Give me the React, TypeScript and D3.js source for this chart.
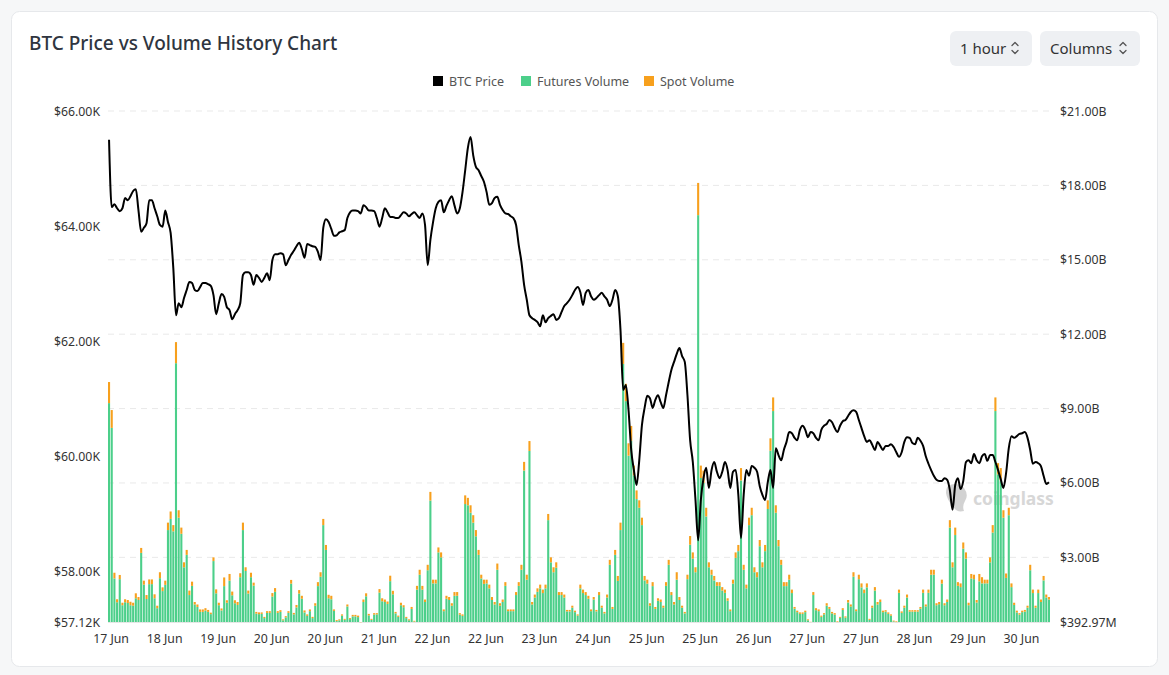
import * as React from "react"
import * as d3 from "d3"

// hourly bars, 17 Jun – 30 Jun
const futuresVolume: number[] = [
  9.22, 8.22, 2.15, 1.19, 2.12, 1.07, 1.19, 1.16, 1.07, 1.05, 1.35, 1.28, 3.18, 1.90, 1.32, 1.92, 1.92, 1.35, 0.95, 2.16,
  1.64, 1.89, 4.1, 4.55, 4.05, 10.83, 4.6, 3.95, 2.6, 3.1, 1.48, 1.85, 1.1, 1.0, 0.8, 0.8, 0.85, 0.8, 0.71, 2.85,
  1.55, 1.07, 0.86, 1.84, 1.17, 2.06, 1.47, 1.15, 1.08, 2.2, 4.1, 2.45, 1.54, 2.2, 1.86, 0.73, 0.71, 0.72, 0.55, 0.76,
  0.76, 1.42, 1.61, 0.76, 0.8, 0.46, 0.58, 0.76, 1.94, 0.7, 0.98, 1.54, 1.33, 0.78, 0.64, 0.83, 0.55, 1.05, 1.84, 2.22,
  4.3, 3.3, 1.35, 1.31, 0.84, 0.43, 0.46, 0.65, 0.48, 1.02, 0.51, 0.62, 0.62, 0.59, 0.38, 1.2, 1.43, 0.66, 0.48, 0.69,
  0.7, 1.58, 1.23, 1.2, 1.12, 2.04, 1.51, 0.74, 0.6, 1.07, 0.99, 0.55, 0.46, 0.92, 0.41, 1.7, 2.3, 1.7, 1.2, 2.48,
  5.29, 1.95, 1.95, 3.2, 3.0, 0.83, 1.33, 1.28, 1.05, 1.45, 1.45, 0.69, 0.64, 5.15, 5.1, 4.8, 4.4, 3.85, 3.1, 2.15,
  1.93, 1.95, 1.75, 1.28, 1.1, 2.5, 1.05, 1.2, 1.85, 0.83, 0.83, 0.83, 1.48, 1.85, 2.5, 6.5, 2.1, 7.29, 1.1, 1.38,
  1.61, 1.75, 1.56, 1.75, 4.5, 2.8, 2.4, 2.58, 1.48, 1.48, 1.38, 0.82, 0.82, 0.97, 0.79, 0.65, 1.75, 1.56, 1.48, 1.33,
  0.83, 1.3, 0.82, 1.48, 0.97, 0.74, 1.38, 2.7, 0.92, 3.1, 2.05, 4.1, 10.8, 9.3, 7.1, 7.7, 6.3, 5.35, 5.0, 4.3,
  2.07, 1.94, 1.05, 1.84, 0.92, 1.25, 1.2, 0.97, 1.85, 2.7, 1.48, 1.1, 2.1, 1.28, 0.97, 0.74, 2.12, 3.51, 2.95, 2.4,
  16.8, 6.2, 6.0, 4.65, 2.6, 2.3, 2.07, 1.85, 1.85, 1.66, 1.57, 1.25, 0.83, 1.94, 2.98, 3.25, 6.1, 2.5, 1.75, 4.3,
  4.7, 2.4, 2.2, 3.45, 2.6, 3.25, 4.95, 7.3, 8.9, 4.8, 3.45, 2.7, 1.84, 1.84, 2.1, 1.56, 0.93, 0.79, 0.72, 0.72,
  0.79, 0.46, 0.39, 1.48, 0.87, 0.83, 0.6, 0.7, 1.05, 0.92, 0.74, 0.69, 0.39, 0.56, 0.88, 0.57, 1.18, 1.02, 2.22, 0.83,
  2.12, 1.79, 1.56, 1.79, 0.48, 0.97, 1.66, 1.1, 1.2, 0.79, 0.81, 0.72, 0.65, 0.42, 0.39, 1.57, 0.76, 0.97, 1.38, 0.81,
  0.81, 0.81, 0.81, 0.93, 1.57, 1.02, 1.57, 2.3, 2.3, 1.07, 1.11, 1.94, 1.07, 1.2, 4.2, 2.6, 3.9, 1.85, 1.8, 3.35,
  2.95, 1.07, 2.15, 2.12, 1.18, 2.03, 1.95, 1.95, 1.95, 2.8, 4.0, 8.9, 6.35, 6.1, 4.6, 2.17, 4.7, 1.8, 1.08, 0.78,
  0.69, 0.79, 0.81, 0.97, 2.48, 1.56, 0.97, 1.56, 1.2, 2.07, 1.38, 1.3,
]

const spotVolume: number[] = [
  0.85, 0.72, 0.23, 0.12, 0.17, 0.10, 0.12, 0.12, 0.14, 0.12, 0.20, 0.12, 0.20, 0.16, 0.16, 0.19, 0.19, 0.16, 0.10, 0.24,
  0.15, 0.17, 0.3, 0.3, 0.25, 0.85, 0.3, 0.25, 0.2, 0.2, 0.18, 0.17, 0.1, 0.1, 0.1, 0.1, 0.1, 0.08, 0.06, 0.15,
  0.16, 0.1, 0.08, 0.35, 0.1, 0.27, 0.15, 0.12, 0.12, 0.16, 0.3, 0.15, 0.12, 0.18, 0.12, 0.07, 0.07, 0.06, 0.05, 0.07,
  0.07, 0.14, 0.15, 0.07, 0.07, 0.04, 0.05, 0.07, 0.15, 0.06, 0.1, 0.14, 0.12, 0.08, 0.06, 0.07, 0.05, 0.1, 0.16, 0.18,
  0.25, 0.2, 0.14, 0.14, 0.06, 0.04, 0.04, 0.05, 0.04, 0.08, 0.04, 0.06, 0.06, 0.06, 0.01, 0.1, 0.12, 0.06, 0.04, 0.06,
  0.05, 0.14, 0.12, 0.1, 0.1, 0.22, 0.14, 0.06, 0.05, 0.1, 0.08, 0.05, 0.04, 0.08, 0.03, 0.15, 0.2, 0.15, 0.1, 0.22,
  0.35, 0.15, 0.15, 0.2, 0.2, 0.07, 0.12, 0.12, 0.1, 0.15, 0.15, 0.06, 0.06, 0.35, 0.3, 0.3, 0.3, 0.25, 0.2, 0.15,
  0.17, 0.15, 0.15, 0.12, 0.1, 0.25, 0.1, 0.1, 0.15, 0.07, 0.07, 0.07, 0.12, 0.15, 0.2, 0.35, 0.2, 0.4, 0.1, 0.12,
  0.14, 0.15, 0.14, 0.15, 0.25, 0.2, 0.2, 0.22, 0.12, 0.12, 0.12, 0.06, 0.06, 0.08, 0.06, 0.05, 0.15, 0.14, 0.12, 0.12,
  0.07, 0.1, 0.06, 0.12, 0.08, 0.06, 0.12, 0.2, 0.08, 0.2, 0.2, 0.3, 0.85, 0.7, 0.5, 0.6, 0.4, 0.35, 0.3, 0.3,
  0.18, 0.16, 0.1, 0.16, 0.08, 0.1, 0.1, 0.08, 0.15, 0.2, 0.12, 0.1, 0.3, 0.12, 0.08, 0.06, 0.18, 0.35, 0.25, 0.2,
  1.3, 0.5, 0.5, 0.35, 0.2, 0.2, 0.18, 0.15, 0.15, 0.14, 0.13, 0.1, 0.07, 0.16, 0.22, 0.25, 0.5, 0.2, 0.15, 0.3,
  0.3, 0.2, 0.2, 0.25, 0.2, 0.25, 0.35, 0.5, 0.55, 0.3, 0.25, 0.2, 0.16, 0.16, 0.2, 0.14, 0.07, 0.06, 0.06, 0.06,
  0.06, 0.04, 0.01, 0.12, 0.08, 0.07, 0.05, 0.05, 0.1, 0.08, 0.06, 0.06, 0.03, 0.04, 0.07, 0.05, 0.1, 0.08, 0.18, 0.07,
  0.18, 0.16, 0.14, 0.16, 0.04, 0.08, 0.14, 0.1, 0.1, 0.06, 0.06, 0.06, 0.05, 0.03, 0.03, 0.13, 0.06, 0.08, 0.12, 0.06,
  0.06, 0.06, 0.06, 0.07, 0.13, 0.08, 0.13, 0.2, 0.2, 0.08, 0.09, 0.16, 0.08, 0.1, 0.3, 0.2, 0.3, 0.15, 0.15, 0.25,
  0.25, 0.1, 0.18, 0.18, 0.1, 0.3, 0.25, 0.15, 0.15, 0.2, 0.3, 0.55, 0.45, 0.5, 0.3, 0.18, 0.3, 0.15, 0.09, 0.07,
  0.06, 0.06, 0.07, 0.08, 0.22, 0.14, 0.08, 0.14, 0.1, 0.18, 0.12, 0.1,
]

// BTC price in thousands of USD
const btcPrice: number[] = [
  65.50, 64.33, 64.38, 64.31, 64.26, 64.31, 64.49, 64.45, 64.52, 64.61, 64.64, 64.27, 63.90, 63.97, 64.05, 64.45, 64.45, 64.31, 64.17, 64.02,
  63.99, 64.27, 64.07, 63.88, 63.27, 62.45, 62.66, 62.59, 62.75, 62.89, 63.03, 63.01, 62.89, 62.87, 62.94, 63.01, 63.01, 62.99, 62.96, 62.80,
  62.47, 62.66, 62.82, 62.77, 62.59, 62.54, 62.38, 62.47, 62.54, 62.66, 63.15, 63.20, 63.20, 63.15, 62.98, 63.15, 63.10, 63.03, 63.10, 63.18,
  63.06, 63.41, 63.51, 63.51, 63.53, 63.51, 63.32, 63.41, 63.50, 63.57, 63.65, 63.71, 63.60, 63.45, 63.69, 63.67, 63.65, 63.64, 63.55, 63.41,
  63.97, 64.12, 64.07, 63.95, 63.83, 63.84, 63.89, 63.91, 63.93, 64.14, 64.24, 64.27, 64.27, 64.26, 64.22, 64.36, 64.33, 64.27, 64.27, 64.26,
  64.14, 63.99, 64.14, 64.31, 64.24, 64.16, 64.16, 64.14, 64.14, 64.19, 64.24, 64.22, 64.17, 64.21, 64.24, 64.19, 64.14, 64.22, 64.02, 63.32,
  63.76, 64.07, 64.31, 64.42, 64.45, 64.24, 64.35, 64.45, 64.52, 64.36, 64.22, 64.31, 64.59, 64.97, 65.36, 65.55, 65.23, 65.03, 64.97, 64.87,
  64.77, 64.59, 64.37, 64.40, 64.49, 64.51, 64.37, 64.28, 64.22, 64.21, 64.17, 64.14, 64.02, 63.67, 63.38, 62.98, 62.72, 62.45, 62.40, 62.37,
  62.33, 62.26, 62.45, 62.33, 62.40, 62.44, 62.47, 62.37, 62.40, 62.51, 62.61, 62.66, 62.72, 62.80, 62.89, 62.94, 62.85, 62.63, 62.84, 62.89,
  62.78, 62.72, 62.75, 62.80, 62.84, 62.78, 62.72, 62.61, 62.72, 62.89, 62.78, 62.19, 61.15, 61.24, 60.80, 60.11, 59.76, 59.50, 59.93, 60.54,
  60.84, 61.05, 61.01, 60.84, 60.98, 61.06, 60.94, 60.84, 61.06, 61.29, 61.50, 61.64, 61.78, 61.88, 61.74, 61.64, 61.06, 60.28, 59.90, 59.24,
  58.54, 59.24, 59.62, 59.80, 59.45, 59.76, 59.90, 59.73, 59.62, 59.73, 59.90, 59.76, 59.45, 59.73, 59.76, 59.33, 58.58, 59.33, 59.76, 59.66,
  59.83, 59.80, 59.73, 59.48, 59.33, 59.24, 59.55, 59.76, 59.45, 60.14, 60.02, 59.93, 60.11, 60.25, 60.42, 60.40, 60.32, 60.28, 60.46, 60.53,
  60.46, 60.33, 60.42, 60.40, 60.32, 60.28, 60.46, 60.53, 60.56, 60.63, 60.59, 60.49, 60.42, 60.53, 60.61, 60.63, 60.70, 60.77, 60.80, 60.77,
  60.63, 60.49, 60.35, 60.25, 60.28, 60.20, 60.11, 60.25, 60.18, 60.11, 60.18, 60.18, 60.21, 60.16, 60.07, 59.99, 60.07, 60.25, 60.33, 60.32,
  60.23, 60.21, 60.32, 60.27, 60.18, 60.00, 59.87, 59.76, 59.66, 59.59, 59.57, 59.57, 59.62, 59.59, 59.41, 59.07, 59.50, 59.62, 59.43, 59.57,
  59.90, 59.93, 59.88, 60.04, 59.93, 59.88, 60.00, 60.04, 59.92, 60.02, 60.02, 59.90, 59.76, 59.60, 59.45, 59.71, 60.14, 60.35, 60.32, 60.35,
  60.39, 60.40, 60.42, 60.32, 60.11, 59.87, 59.90, 59.88, 59.83, 59.66, 59.52, 59.55,
]

const dateLabels = [
  "17 Jun", "18 Jun", "19 Jun", "20 Jun", "20 Jun", "21 Jun", "22 Jun", "22 Jun", "23 Jun",
  "24 Jun", "25 Jun", "25 Jun", "26 Jun", "27 Jun", "27 Jun", "28 Jun", "29 Jun", "30 Jun",
]
const labelEvery = 20

const priceTicks = [57.12, 58, 60, 62, 64, 66]
const volumeTicks = [0.39297, 3, 6, 9, 12, 15, 18, 21]

const W = 1169
const H = 675
const plot = { left: 108, right: 1050, top: 111, bottom: 622 }

const GREEN = "#4ccf8a"
const ORANGE = "#f7a01d"
const FONT = "'Noto Sans', 'Open Sans', sans-serif"

const fmtPrice = (v: number) => "$" + v.toFixed(2) + "K"
const fmtVol = (v: number) => v < 1 ? "$" + (v * 1000).toFixed(2) + "M" : "$" + v.toFixed(2) + "B"

function Chevrons({ x, y }: { x: number, y: number }) {
  return (
    <g stroke="#555" strokeWidth={1.3} fill="none" strokeLinecap="round" strokeLinejoin="round">
      <path d={`M${x - 3},${y - 2.5} L${x},${y - 5.5} L${x + 3},${y - 2.5}`} />
      <path d={`M${x - 3},${y + 2.5} L${x},${y + 5.5} L${x + 3},${y + 2.5}`} />
    </g>
  )
}

export default function App() {
  const n = futuresVolume.length
  const x = d3.scaleBand<number>()
    .domain(d3.range(n))
    .range([plot.left, plot.right])
    .paddingInner(0.22)
    .paddingOuter(0)
  const yVol = d3.scaleLinear().domain([volumeTicks[0], 21]).range([plot.bottom, plot.top])
  const yPrice = d3.scaleLinear().domain([priceTicks[0], 66]).range([plot.bottom, plot.top])
  const cx = (i: number) => (x(i) as number) + x.bandwidth() / 2

  const pricePath = d3.line<number>()
    .x((_, i) => cx(i))
    .y(d => yPrice(d))
    .curve(d3.curveMonotoneX)(btcPrice) as string

  const legend = [
    { label: "BTC Price", color: "#000", x: 433 },
    { label: "Futures Volume", color: GREEN, x: 521 },
    { label: "Spot Volume", color: ORANGE, x: 644 },
  ]

  return (
    <svg width={W} height={H} style={{ position: "absolute", left: 0, top: 0, fontFamily: FONT }}>
      <rect x={0} y={0} width={W} height={H} fill="#f6f7f8" />
      <rect x={11.5} y={11.5} width={1146} height={655} rx={8} fill="#fff" stroke="#e6e8eb" />

      <text x={29} y={50} fontSize={19} fontWeight={500} fill="#2f3540">BTC Price vs Volume History Chart</text>

      {/* interval / chart type selectors */}
      <rect x={950} y={31} width={82} height={35} rx={6} fill="#eef0f3" />
      <text x={960} y={53.5} fontSize={15} fill="#333">1 hour</text>
      <Chevrons x={1015} y={48} />
      <rect x={1040} y={31} width={100} height={35} rx={6} fill="#eef0f3" />
      <text x={1050} y={53.5} fontSize={15} fill="#333">Columns</text>
      <Chevrons x={1123} y={48} />

      {legend.map(l => (
        <g key={l.label}>
          <rect x={l.x} y={76} width={10} height={10} fill={l.color} />
          <text x={l.x + 16} y={85.5} fontSize={12.5} fill="#555">{l.label}</text>
        </g>
      ))}

      {/* grid follows the volume axis */}
      {volumeTicks.slice(1).map(t => (
        <line key={t} x1={plot.left} x2={plot.right} y1={yVol(t)} y2={yVol(t)}
          stroke="#e9e9e9" strokeDasharray="6,5" />
      ))}
      <line x1={plot.left} x2={plot.right} y1={plot.bottom + 0.5} y2={plot.bottom + 0.5} stroke="#e6e6e6" />

      {priceTicks.map(t => (
        <text key={t} x={100} y={yPrice(t) + 4.5} fontSize={12.3} fill="#333" textAnchor="end">{fmtPrice(t)}</text>
      ))}
      {volumeTicks.map(t => (
        <text key={t} x={1060} y={yVol(t) + 4.5} fontSize={12.3} fill="#333">{fmtVol(t)}</text>
      ))}

      {dateLabels.map((d, k) => (
        <text key={k} x={cx(k * labelEvery) + 2} y={643} fontSize={12.3} fill="#333" textAnchor="middle">{d}</text>
      ))}

      {/* watermark */}
      <g opacity={0.6} fill="#b5b5b5">
        <path d="M948,486 q9,-5 16,2 q5,7 1,13 q-3,5 -1,10 q-8,2 -11,-5 q-6,-6 -7,-13 q0,-5 2,-7 z" />
        <text x={973} y={505} fontSize={17.5} fontWeight={700} fill="#bdbdbd">coinglass</text>
      </g>

      {futuresVolume.map((f, i) => (
        <g key={i}>
          <rect x={x(i)} width={x.bandwidth()} y={yVol(f)} height={plot.bottom - yVol(f)} fill={GREEN} />
          <rect x={x(i)} width={x.bandwidth()} y={yVol(f + spotVolume[i])}
            height={yVol(f) - yVol(f + spotVolume[i])} fill={ORANGE} />
        </g>
      ))}

      <path d={pricePath} fill="none" stroke="#000" strokeWidth={2} strokeLinejoin="round" />
    </svg>
  )
}
